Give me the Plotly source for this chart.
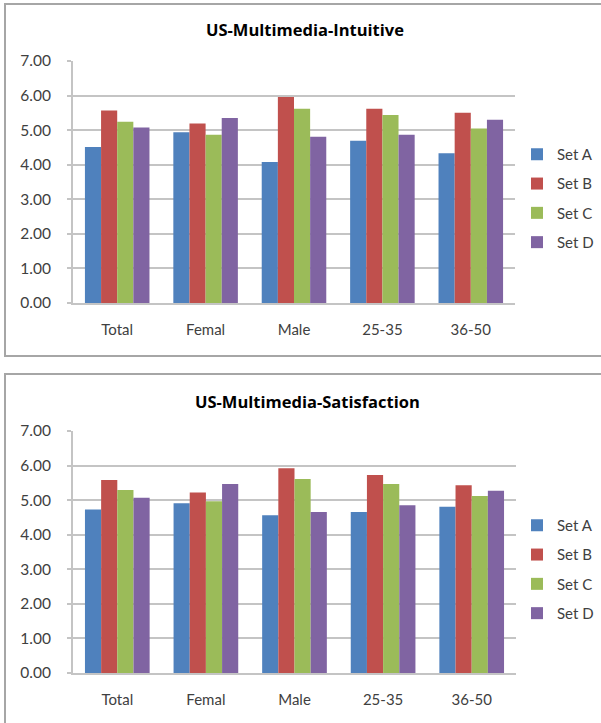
import plotly.graph_objects as go

# Survey scores by respondent group
groups = ["Total", "Femal", "Male", "25-35", "36-50"]
series_names = ["Set A", "Set B", "Set C", "Set D"]

intuitive_a = [4.51, 4.94, 4.08, 4.69, 4.33]
intuitive_b = [5.57, 5.19, 5.96, 5.62, 5.50]
intuitive_c = [5.24, 4.87, 5.62, 5.44, 5.05]
intuitive_d = [5.08, 5.35, 4.81, 4.87, 5.30]

satisfaction_a = [4.73, 4.91, 4.56, 4.66, 4.81]
satisfaction_b = [5.58, 5.22, 5.92, 5.73, 5.43]
satisfaction_c = [5.29, 4.97, 5.61, 5.47, 5.12]
satisfaction_d = [5.07, 5.47, 4.66, 4.85, 5.27]

y_ticks = [0, 1, 2, 3, 4, 5, 6, 7]

colors = ["#4F81BD", "#C0504D", "#9BBB59", "#8064A2"]

W, H = 601, 723
FONT = "Lato, 'Open Sans', sans-serif"
TITLE_FONT = "'Open Sans', sans-serif"
TXT = "#404040"
GRID = "#C4C4C4"


def px_x(v):
    return v / W


def px_y(v):
    return 1 - v / H


fig = go.Figure()

panels = [
    ("x", "y", "legend", [intuitive_a, intuitive_b, intuitive_c, intuitive_d]),
    ("x2", "y2", "legend2", [satisfaction_a, satisfaction_b, satisfaction_c, satisfaction_d]),
]

for xa, ya, leg, data in panels:
    for i, (name, vals) in enumerate(zip(series_names, data)):
        fig.add_trace(go.Bar(
            x=groups, y=vals, name=name, xaxis=xa, yaxis=ya, legend=leg,
            marker=dict(color=colors[i], line=dict(width=0)),
            legendgroup=f"{leg}-{name}",
        ))

axis_common_x = dict(
    showgrid=False, showline=True, linecolor=GRID, linewidth=2,
    tickfont=dict(family=FONT, size=15, color=TXT),
    ticks="", ticklabelstandoff=12, fixedrange=True, automargin=False,
)
axis_common_y = dict(
    range=[0, 7], tickvals=y_ticks, tickformat=".2f",
    showgrid=True, gridcolor=GRID, gridwidth=2,
    showline=True, linecolor=GRID, linewidth=2,
    ticks="outside", ticklen=4, tickcolor=GRID, tickwidth=2,
    tickfont=dict(family=FONT, size=15.5, color=TXT),
    ticklabelstandoff=13, zeroline=False, fixedrange=True, automargin=False,
)

legend_common = dict(
    font=dict(family=FONT, size=15, color=TXT),
    bgcolor="rgba(0,0,0,0)", traceorder="grouped", tracegroupgap=6.8,
    xanchor="left", yanchor="top", itemclick=False, itemdoubleclick=False,
)

fig.update_layout(
    width=W, height=H, margin=dict(l=0, r=0, t=0, b=0),
    paper_bgcolor="white", plot_bgcolor="white",
    barmode="group", bargap=0.27, bargroupgap=0,
    xaxis=dict(domain=[px_x(73), px_x(515)], anchor="y", **axis_common_x),
    yaxis=dict(domain=[px_y(303), px_y(61)], anchor="x", **axis_common_y),
    xaxis2=dict(domain=[px_x(73), px_x(516)], anchor="y2", **axis_common_x),
    yaxis2=dict(domain=[px_y(673), px_y(431)], anchor="x2", **axis_common_y),
    legend=dict(x=px_x(517), y=px_y(138), **legend_common),
    legend2=dict(x=px_x(517), y=px_y(509), **legend_common),
    annotations=[
        dict(text="<b>US-Multimedia-Intuitive</b>", x=px_x(305), y=px_y(30),
             xref="paper", yref="paper", xanchor="center", yanchor="middle",
             showarrow=False, font=dict(family=TITLE_FONT, size=16.5, color="#000000")),
        dict(text="<b>US-Multimedia-Satisfaction</b>", x=px_x(307), y=px_y(401),
             xref="paper", yref="paper", xanchor="center", yanchor="middle",
             showarrow=False, font=dict(family=TITLE_FONT, size=16.5, color="#000000")),
    ],
    shapes=[
        dict(type="rect", xref="paper", yref="paper",
             x0=px_x(5), x1=px_x(606), y0=px_y(356), y1=px_y(4),
             line=dict(color="#A6A6A6", width=2)),
        dict(type="rect", xref="paper", yref="paper",
             x0=px_x(5), x1=px_x(606), y0=px_y(730), y1=px_y(374),
             line=dict(color="#A6A6A6", width=2)),
    ],
)

fig.write_html("out.html")
